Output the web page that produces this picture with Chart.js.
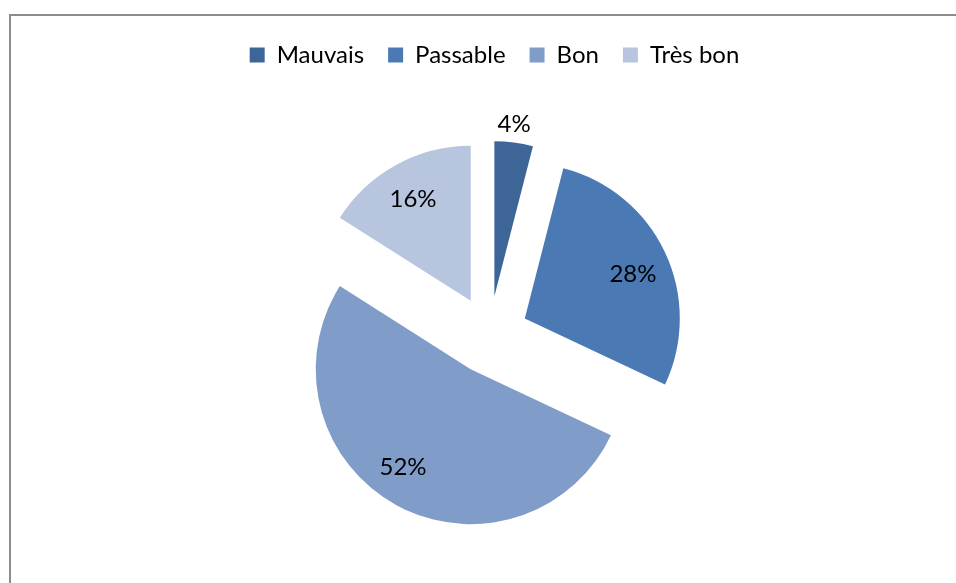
<!DOCTYPE html>
<html><head><meta charset="utf-8">
<script src="https://cdn.jsdelivr.net/npm/chart.js@4/dist/chart.umd.min.js"></script>
<style>
html,body{margin:0;padding:0;width:956px;height:583px;overflow:hidden;background:#fff;}
#frame{position:absolute;left:9px;top:14px;width:1200px;height:1200px;border-top:2px solid #8c8c8c;border-left:2px solid #8c8c8c;box-sizing:border-box;}
#wrap{position:absolute;left:0;top:0;width:956px;height:583px;}
</style></head><body>
<div id="frame"></div>
<div id="wrap"><canvas id="c" width="956" height="583"></canvas></div>
<script>
const categories = ['Mauvais', 'Passable', 'Bon', 'Très bon'];
const values = [4, 28, 52, 16];
const percentLabels = ['4%', '28%', '52%', '16%'];
const colors = ['#3d6597', '#4a79b3', '#809dca', '#b7c5df'];

// exploded-pie styling: distance each slice is pulled out, pie shift from the chart-area centre,
// and label placement (fraction of radius, angle tweak in degrees)
const EXPLODE = 39;
const PIE_SHIFT_X = -5;
const PIE_SHIFT_Y = 5;
const labelRadiusFrac = [1.12, 0.755, 0.771, 0.751];
const labelAngleShift = [-0.7, 2.8, 5.7, -0.9];

const explodePlugin = {
  id: 'explode',
  afterDatasetUpdate(chart, args) {
    args.meta.data.forEach((arc) => {
      const mid = (arc.startAngle + arc.endAngle) / 2;
      arc.x += Math.cos(mid) * EXPLODE + PIE_SHIFT_X;
      arc.y += Math.sin(mid) * EXPLODE + PIE_SHIFT_Y;
    });
  }
};

const labelPlugin = {
  id: 'pctLabels',
  afterDatasetsDraw(chart) {
    const ctx = chart.ctx;
    const meta = chart.getDatasetMeta(0);
    ctx.save();
    ctx.font = '24px Lato';
    ctx.fillStyle = '#000';
    ctx.textAlign = 'center';
    ctx.textBaseline = 'middle';
    meta.data.forEach((arc, i) => {
      const mid = (arc.startAngle + arc.endAngle) / 2;
      const a = mid + labelAngleShift[i] * Math.PI / 180;
      const rr = arc.outerRadius * labelRadiusFrac[i];
      ctx.fillText(percentLabels[i], arc.x + Math.cos(a) * rr, arc.y + Math.sin(a) * rr);
    });
    ctx.restore();
  }
};

new Chart(document.getElementById('c'), {
  type: 'pie',
  data: {
    labels: categories,
    datasets: [{
      data: values,
      backgroundColor: colors,
      borderWidth: 0,
      hoverOffset: 0
    }]
  },
  options: {
    responsive: false,
    animation: false,
    devicePixelRatio: 1,
    radius: 155,
    layout: { padding: { top: 19, left: 33, right: 0, bottom: 0 } },
    events: [],
    plugins: {
      tooltip: { enabled: false },
      legend: {
        position: 'top',
        labels: {
          boxWidth: 15,
          boxHeight: 15,
          padding: 24,
          color: '#000',
          font: { family: 'Lato', size: 24 }
        }
      }
    }
  },
  plugins: [explodePlugin, labelPlugin]
});
</script>
</body></html>
